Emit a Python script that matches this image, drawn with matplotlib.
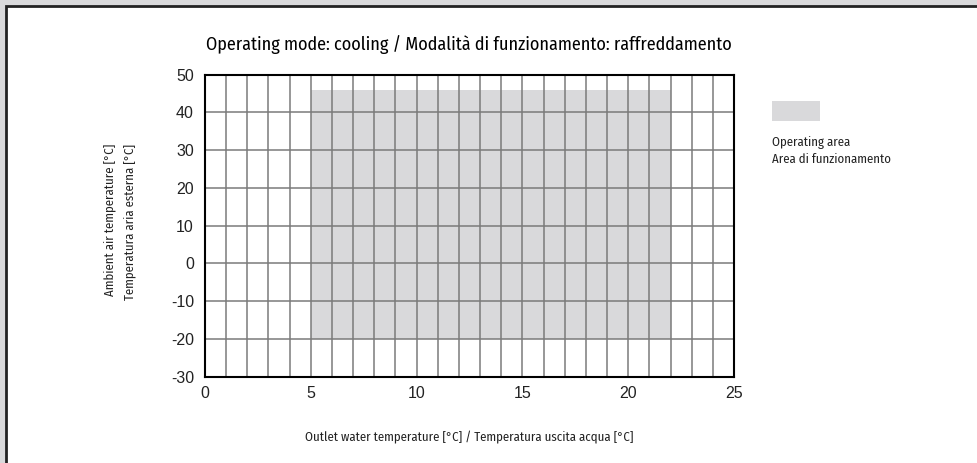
import matplotlib
matplotlib.use("Agg")
import matplotlib.pyplot as plt
from matplotlib.patches import Rectangle

# operating envelope, cooling
x_min, x_max = 5, 22      # outlet water temperature
y_min, y_max = -20, 46    # ambient air temperature

x_ticks = [0, 5, 10, 15, 20, 25]
y_ticks = [-30, -20, -10, 0, 10, 20, 30, 40, 50]
x_grid = list(range(0, 26))

title = "Operating mode: cooling / Modalità di funzionamento: raffreddamento"
xlabel = "Outlet water temperature [°C] / Temperatura uscita acqua [°C]"
ylabel = "Ambient air temperature [°C]\nTemperatura aria esterna [°C]"
legend_lines = ["Operating area", "Area di funzionamento"]

plt.rcParams["axes.unicode_minus"] = False
narrow = ["Fira Sans Condensed", "Liberation Sans Narrow", "DejaVu Sans"]
area_color = "#d9d9db"

fig = plt.figure(figsize=(9.78, 4.63), dpi=100)
fig.patch.set_facecolor("#d9d9db")
# white sheet with dark border on top/left
fig.add_artist(Rectangle((6 / 978, -0.05), 1.2, (463 - 6) / 463 + 0.05,
                         transform=fig.transFigure, facecolor="white",
                         edgecolor="#222222", linewidth=2, zorder=-5))

ax = fig.add_axes([205 / 978, 1 - 376.7 / 463, 529 / 978, 302 / 463])
ax.set_xlim(0, 25)
ax.set_ylim(-30, 50)

ax.fill_between([x_min, x_max], y_min, y_max, color=area_color, linewidth=0, zorder=1)

for xv in x_grid:
    ax.axvline(xv, color="#7a7a7a", linewidth=1.1, zorder=2)
for yv in y_ticks:
    ax.axhline(yv, color="#7a7a7a", linewidth=1.1, zorder=2)

for s in ax.spines.values():
    s.set_linewidth(1.5)
    s.set_color("black")
    s.set_zorder(3)

ax.set_xticks(x_ticks)
ax.set_yticks(y_ticks)
ax.tick_params(length=0, labelsize=11.5, labelcolor="#222222")
ax.tick_params(axis="x", pad=7)
ax.tick_params(axis="y", pad=8)
for lab in ax.get_xticklabels() + ax.get_yticklabels():
    lab.set_family(["Liberation Sans", "DejaVu Sans"])

fig.text(469 / 978, 1 - 45 / 463, title, ha="center", va="center",
         fontsize=13, family=narrow, color="black")
fig.text(469 / 978, 1 - 437 / 463, xlabel, ha="center", va="center",
         fontsize=9.2, family=narrow, color="#222222")
fig.text(120 / 978, 1 - 222 / 463, ylabel, ha="center", va="center",
         rotation=90, fontsize=9.2, family=narrow, multialignment="right",
         color="#222222", linespacing=1.75)

# legend
fig.add_artist(Rectangle((772 / 978, 1 - 121 / 463), 48 / 978, 20 / 463,
                         transform=fig.transFigure, facecolor=area_color,
                         edgecolor="none"))
fig.text(772 / 978, 1 - 151 / 463, "\n".join(legend_lines), ha="left",
         va="center", fontsize=9.2, family=narrow,
         color="#222222", linespacing=1.45)

fig.savefig("out.png", dpi=100, facecolor=fig.get_facecolor())
